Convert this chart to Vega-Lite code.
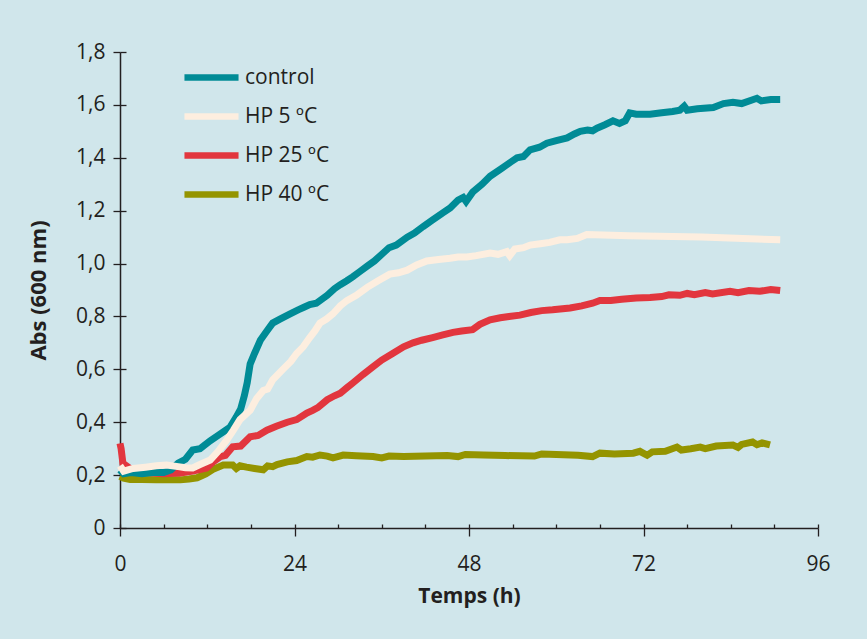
{
  "$schema": "https://vega.github.io/schema/vega-lite/v6.json",
  "width": 698,
  "height": 476,
  "autosize": {"type": "none"},
  "padding": {"left": 120, "top": 52, "right": 49, "bottom": 111},
  "background": "#d0e6eb",
  "config": {
    "view": {"stroke": null},
    "font": "Open Sans",
    "axis": {"labelFont": "Open Sans", "titleFont": "Open Sans", "domainColor": "#231f20", "tickColor": "#231f20", "labelColor": "#231f20", "titleColor": "#231f20", "grid": false}
  },
  "datasets": {
    "curves": [
      {"s": "HP 40 ºC", "h": 0, "v": 0.195}, {"s": "HP 40 ºC", "h": 0.5, "v": 0.188}, {"s": "HP 40 ºC", "h": 1.4, "v": 0.183}, {"s": "HP 40 ºC", "h": 3, "v": 0.183}, {"s": "HP 40 ºC", "h": 5, "v": 0.182}, {"s": "HP 40 ºC", "h": 8.3, "v": 0.182}, {"s": "HP 40 ºC", "h": 9.5, "v": 0.185}, {"s": "HP 40 ºC", "h": 10.6, "v": 0.19}, {"s": "HP 40 ºC", "h": 11.8, "v": 0.205}, {"s": "HP 40 ºC", "h": 12.8, "v": 0.222}, {"s": "HP 40 ºC", "h": 14.2, "v": 0.238}, {"s": "HP 40 ºC", "h": 15.5, "v": 0.238}, {"s": "HP 40 ºC", "h": 16, "v": 0.225}, {"s": "HP 40 ºC", "h": 16.5, "v": 0.235}, {"s": "HP 40 ºC", "h": 17.4, "v": 0.23}, {"s": "HP 40 ºC", "h": 18.5, "v": 0.225}, {"s": "HP 40 ºC", "h": 19.7, "v": 0.22}, {"s": "HP 40 ºC", "h": 20.3, "v": 0.235}, {"s": "HP 40 ºC", "h": 21, "v": 0.232}, {"s": "HP 40 ºC", "h": 21.6, "v": 0.24}, {"s": "HP 40 ºC", "h": 23, "v": 0.25}, {"s": "HP 40 ºC", "h": 24.3, "v": 0.255}, {"s": "HP 40 ºC", "h": 25.7, "v": 0.27}, {"s": "HP 40 ºC", "h": 26.5, "v": 0.268}, {"s": "HP 40 ºC", "h": 27.5, "v": 0.276}, {"s": "HP 40 ºC", "h": 28.5, "v": 0.272}, {"s": "HP 40 ºC", "h": 29.3, "v": 0.265}, {"s": "HP 40 ºC", "h": 30.7, "v": 0.276}, {"s": "HP 40 ºC", "h": 32.5, "v": 0.273}, {"s": "HP 40 ºC", "h": 34.8, "v": 0.27}, {"s": "HP 40 ºC", "h": 36, "v": 0.265}, {"s": "HP 40 ºC", "h": 37, "v": 0.272}, {"s": "HP 40 ºC", "h": 39, "v": 0.27}, {"s": "HP 40 ºC", "h": 42, "v": 0.272}, {"s": "HP 40 ºC", "h": 45, "v": 0.274}, {"s": "HP 40 ºC", "h": 46.5, "v": 0.27}, {"s": "HP 40 ºC", "h": 47.5, "v": 0.278}, {"s": "HP 40 ºC", "h": 50, "v": 0.276}, {"s": "HP 40 ºC", "h": 53, "v": 0.274}, {"s": "HP 40 ºC", "h": 57, "v": 0.272}, {"s": "HP 40 ºC", "h": 58, "v": 0.28}, {"s": "HP 40 ºC", "h": 60, "v": 0.278}, {"s": "HP 40 ºC", "h": 63, "v": 0.275}, {"s": "HP 40 ºC", "h": 65, "v": 0.27}, {"s": "HP 40 ºC", "h": 66, "v": 0.283}, {"s": "HP 40 ºC", "h": 68, "v": 0.28}, {"s": "HP 40 ºC", "h": 70.6, "v": 0.283}, {"s": "HP 40 ºC", "h": 71.5, "v": 0.29}, {"s": "HP 40 ºC", "h": 72.5, "v": 0.275}, {"s": "HP 40 ºC", "h": 73.2, "v": 0.288}, {"s": "HP 40 ºC", "h": 75, "v": 0.29}, {"s": "HP 40 ºC", "h": 76.6, "v": 0.306}, {"s": "HP 40 ºC", "h": 77.2, "v": 0.295}, {"s": "HP 40 ºC", "h": 78.5, "v": 0.3}, {"s": "HP 40 ºC", "h": 79.8, "v": 0.306}, {"s": "HP 40 ºC", "h": 80.5, "v": 0.3}, {"s": "HP 40 ºC", "h": 82, "v": 0.31}, {"s": "HP 40 ºC", "h": 84.3, "v": 0.314}, {"s": "HP 40 ºC", "h": 85, "v": 0.305}, {"s": "HP 40 ºC", "h": 85.5, "v": 0.316}, {"s": "HP 40 ºC", "h": 87, "v": 0.325}, {"s": "HP 40 ºC", "h": 87.6, "v": 0.315}, {"s": "HP 40 ºC", "h": 88.3, "v": 0.322}, {"s": "HP 40 ºC", "h": 89.4, "v": 0.314},

      {"s": "HP 25 ºC", "h": 0, "v": 0.32}, {"s": "HP 25 ºC", "h": 0.15, "v": 0.3}, {"s": "HP 25 ºC", "h": 0.4, "v": 0.245}, {"s": "HP 25 ºC", "h": 1.4, "v": 0.225}, {"s": "HP 25 ºC", "h": 2.5, "v": 0.215}, {"s": "HP 25 ºC", "h": 3.7, "v": 0.21}, {"s": "HP 25 ºC", "h": 6, "v": 0.205}, {"s": "HP 25 ºC", "h": 8.3, "v": 0.208}, {"s": "HP 25 ºC", "h": 10, "v": 0.215}, {"s": "HP 25 ºC", "h": 11.9, "v": 0.227}, {"s": "HP 25 ºC", "h": 12.8, "v": 0.25}, {"s": "HP 25 ºC", "h": 13.8, "v": 0.27}, {"s": "HP 25 ºC", "h": 14.5, "v": 0.275}, {"s": "HP 25 ºC", "h": 15.5, "v": 0.307}, {"s": "HP 25 ºC", "h": 16.6, "v": 0.31}, {"s": "HP 25 ºC", "h": 17.9, "v": 0.345}, {"s": "HP 25 ºC", "h": 19, "v": 0.35}, {"s": "HP 25 ºC", "h": 20.2, "v": 0.37}, {"s": "HP 25 ºC", "h": 21.5, "v": 0.385}, {"s": "HP 25 ºC", "h": 23, "v": 0.4}, {"s": "HP 25 ºC", "h": 24.3, "v": 0.41}, {"s": "HP 25 ºC", "h": 25.7, "v": 0.435}, {"s": "HP 25 ºC", "h": 26.5, "v": 0.445}, {"s": "HP 25 ºC", "h": 27.2, "v": 0.455}, {"s": "HP 25 ºC", "h": 28.5, "v": 0.485}, {"s": "HP 25 ºC", "h": 29.5, "v": 0.5}, {"s": "HP 25 ºC", "h": 30.3, "v": 0.51}, {"s": "HP 25 ºC", "h": 31.2, "v": 0.53}, {"s": "HP 25 ºC", "h": 32, "v": 0.548}, {"s": "HP 25 ºC", "h": 33.4, "v": 0.58}, {"s": "HP 25 ºC", "h": 34.8, "v": 0.61}, {"s": "HP 25 ºC", "h": 36, "v": 0.635}, {"s": "HP 25 ºC", "h": 37.5, "v": 0.66}, {"s": "HP 25 ºC", "h": 39, "v": 0.685}, {"s": "HP 25 ºC", "h": 40.3, "v": 0.7}, {"s": "HP 25 ºC", "h": 41.5, "v": 0.71}, {"s": "HP 25 ºC", "h": 43, "v": 0.72}, {"s": "HP 25 ºC", "h": 44.4, "v": 0.73}, {"s": "HP 25 ºC", "h": 45.8, "v": 0.74}, {"s": "HP 25 ºC", "h": 47, "v": 0.745}, {"s": "HP 25 ºC", "h": 48.5, "v": 0.75}, {"s": "HP 25 ºC", "h": 49.5, "v": 0.77}, {"s": "HP 25 ºC", "h": 50.9, "v": 0.787}, {"s": "HP 25 ºC", "h": 52.3, "v": 0.795}, {"s": "HP 25 ºC", "h": 53.5, "v": 0.8}, {"s": "HP 25 ºC", "h": 55, "v": 0.805}, {"s": "HP 25 ºC", "h": 56.5, "v": 0.815}, {"s": "HP 25 ºC", "h": 58, "v": 0.822}, {"s": "HP 25 ºC", "h": 59.5, "v": 0.825}, {"s": "HP 25 ºC", "h": 61.9, "v": 0.832}, {"s": "HP 25 ºC", "h": 63.5, "v": 0.84}, {"s": "HP 25 ºC", "h": 65, "v": 0.85}, {"s": "HP 25 ºC", "h": 66, "v": 0.86}, {"s": "HP 25 ºC", "h": 67.5, "v": 0.86}, {"s": "HP 25 ºC", "h": 69, "v": 0.865}, {"s": "HP 25 ºC", "h": 71, "v": 0.87}, {"s": "HP 25 ºC", "h": 72.9, "v": 0.872}, {"s": "HP 25 ºC", "h": 74.5, "v": 0.875}, {"s": "HP 25 ºC", "h": 75.5, "v": 0.882}, {"s": "HP 25 ºC", "h": 77, "v": 0.88}, {"s": "HP 25 ºC", "h": 78, "v": 0.887}, {"s": "HP 25 ºC", "h": 79, "v": 0.882}, {"s": "HP 25 ºC", "h": 80.5, "v": 0.89}, {"s": "HP 25 ºC", "h": 81.5, "v": 0.885}, {"s": "HP 25 ºC", "h": 83.9, "v": 0.895}, {"s": "HP 25 ºC", "h": 85, "v": 0.89}, {"s": "HP 25 ºC", "h": 86.5, "v": 0.898}, {"s": "HP 25 ºC", "h": 88, "v": 0.895}, {"s": "HP 25 ºC", "h": 89.5, "v": 0.902}, {"s": "HP 25 ºC", "h": 90.8, "v": 0.898},

      {"s": "control", "h": 0, "v": 0.22}, {"s": "control", "h": 0.5, "v": 0.205}, {"s": "control", "h": 1.5, "v": 0.21}, {"s": "control", "h": 3, "v": 0.205}, {"s": "control", "h": 4.5, "v": 0.21}, {"s": "control", "h": 6, "v": 0.21}, {"s": "control", "h": 7, "v": 0.22}, {"s": "control", "h": 8, "v": 0.245}, {"s": "control", "h": 9, "v": 0.26}, {"s": "control", "h": 10, "v": 0.295}, {"s": "control", "h": 11, "v": 0.3}, {"s": "control", "h": 12.4, "v": 0.33}, {"s": "control", "h": 13.5, "v": 0.35}, {"s": "control", "h": 15.1, "v": 0.38}, {"s": "control", "h": 16, "v": 0.42}, {"s": "control", "h": 16.6, "v": 0.45}, {"s": "control", "h": 17.1, "v": 0.5}, {"s": "control", "h": 17.5, "v": 0.55}, {"s": "control", "h": 17.9, "v": 0.62}, {"s": "control", "h": 18.5, "v": 0.66}, {"s": "control", "h": 19.3, "v": 0.71}, {"s": "control", "h": 20.2, "v": 0.745}, {"s": "control", "h": 21, "v": 0.775}, {"s": "control", "h": 22, "v": 0.79}, {"s": "control", "h": 23.4, "v": 0.81}, {"s": "control", "h": 24.5, "v": 0.825}, {"s": "control", "h": 25.3, "v": 0.835}, {"s": "control", "h": 26.1, "v": 0.845}, {"s": "control", "h": 27, "v": 0.85}, {"s": "control", "h": 28.5, "v": 0.88}, {"s": "control", "h": 29.5, "v": 0.905}, {"s": "control", "h": 30.3, "v": 0.92}, {"s": "control", "h": 31.2, "v": 0.935}, {"s": "control", "h": 32, "v": 0.95}, {"s": "control", "h": 33, "v": 0.97}, {"s": "control", "h": 34, "v": 0.99}, {"s": "control", "h": 35, "v": 1.01}, {"s": "control", "h": 36.2, "v": 1.04}, {"s": "control", "h": 37, "v": 1.06}, {"s": "control", "h": 38, "v": 1.07}, {"s": "control", "h": 39.5, "v": 1.1}, {"s": "control", "h": 40.5, "v": 1.115}, {"s": "control", "h": 41.7, "v": 1.14}, {"s": "control", "h": 43, "v": 1.165}, {"s": "control", "h": 44.3, "v": 1.19}, {"s": "control", "h": 45.4, "v": 1.21}, {"s": "control", "h": 46.5, "v": 1.24}, {"s": "control", "h": 47.2, "v": 1.25}, {"s": "control", "h": 47.6, "v": 1.235}, {"s": "control", "h": 48.5, "v": 1.27}, {"s": "control", "h": 49.8, "v": 1.3}, {"s": "control", "h": 50.9, "v": 1.33}, {"s": "control", "h": 52.5, "v": 1.36}, {"s": "control", "h": 53.8, "v": 1.385}, {"s": "control", "h": 54.6, "v": 1.4}, {"s": "control", "h": 55.5, "v": 1.405}, {"s": "control", "h": 56.4, "v": 1.43}, {"s": "control", "h": 57.7, "v": 1.44}, {"s": "control", "h": 58.7, "v": 1.455}, {"s": "control", "h": 60, "v": 1.465}, {"s": "control", "h": 61.5, "v": 1.475}, {"s": "control", "h": 62.5, "v": 1.49}, {"s": "control", "h": 63.3, "v": 1.5}, {"s": "control", "h": 64.3, "v": 1.505}, {"s": "control", "h": 65, "v": 1.502}, {"s": "control", "h": 65.6, "v": 1.512}, {"s": "control", "h": 66.7, "v": 1.525}, {"s": "control", "h": 67.8, "v": 1.54}, {"s": "control", "h": 68.7, "v": 1.53}, {"s": "control", "h": 69.5, "v": 1.54}, {"s": "control", "h": 70.1, "v": 1.57}, {"s": "control", "h": 71, "v": 1.565}, {"s": "control", "h": 72.9, "v": 1.565}, {"s": "control", "h": 74.5, "v": 1.57}, {"s": "control", "h": 76, "v": 1.575}, {"s": "control", "h": 77, "v": 1.58}, {"s": "control", "h": 77.6, "v": 1.595}, {"s": "control", "h": 78, "v": 1.58}, {"s": "control", "h": 79.4, "v": 1.585}, {"s": "control", "h": 81.6, "v": 1.59}, {"s": "control", "h": 83, "v": 1.605}, {"s": "control", "h": 84.3, "v": 1.61}, {"s": "control", "h": 85.5, "v": 1.605}, {"s": "control", "h": 87.6, "v": 1.625}, {"s": "control", "h": 88.2, "v": 1.615}, {"s": "control", "h": 89.5, "v": 1.62}, {"s": "control", "h": 90.8, "v": 1.62},

      {"s": "HP 5 ºC", "h": 0, "v": 0.235}, {"s": "HP 5 ºC", "h": 0.5, "v": 0.215}, {"s": "HP 5 ºC", "h": 1.8, "v": 0.225}, {"s": "HP 5 ºC", "h": 3.5, "v": 0.23}, {"s": "HP 5 ºC", "h": 5, "v": 0.235}, {"s": "HP 5 ºC", "h": 6.4, "v": 0.238}, {"s": "HP 5 ºC", "h": 8, "v": 0.232}, {"s": "HP 5 ºC", "h": 9, "v": 0.228}, {"s": "HP 5 ºC", "h": 10, "v": 0.227}, {"s": "HP 5 ºC", "h": 11, "v": 0.24}, {"s": "HP 5 ºC", "h": 12.4, "v": 0.257}, {"s": "HP 5 ºC", "h": 13.5, "v": 0.29}, {"s": "HP 5 ºC", "h": 14.7, "v": 0.333}, {"s": "HP 5 ºC", "h": 15.6, "v": 0.37}, {"s": "HP 5 ºC", "h": 16.5, "v": 0.41}, {"s": "HP 5 ºC", "h": 17.9, "v": 0.445}, {"s": "HP 5 ºC", "h": 18.8, "v": 0.49}, {"s": "HP 5 ºC", "h": 19.7, "v": 0.52}, {"s": "HP 5 ºC", "h": 20.3, "v": 0.525}, {"s": "HP 5 ºC", "h": 21, "v": 0.56}, {"s": "HP 5 ºC", "h": 22.4, "v": 0.6}, {"s": "HP 5 ºC", "h": 23.5, "v": 0.63}, {"s": "HP 5 ºC", "h": 24.3, "v": 0.66}, {"s": "HP 5 ºC", "h": 25.2, "v": 0.685}, {"s": "HP 5 ºC", "h": 26.1, "v": 0.72}, {"s": "HP 5 ºC", "h": 26.8, "v": 0.745}, {"s": "HP 5 ºC", "h": 27.5, "v": 0.775}, {"s": "HP 5 ºC", "h": 28.4, "v": 0.79}, {"s": "HP 5 ºC", "h": 29.3, "v": 0.81}, {"s": "HP 5 ºC", "h": 30.3, "v": 0.84}, {"s": "HP 5 ºC", "h": 31.2, "v": 0.86}, {"s": "HP 5 ºC", "h": 32.5, "v": 0.88}, {"s": "HP 5 ºC", "h": 34, "v": 0.91}, {"s": "HP 5 ºC", "h": 35.5, "v": 0.935}, {"s": "HP 5 ºC", "h": 37.1, "v": 0.96}, {"s": "HP 5 ºC", "h": 38.3, "v": 0.965}, {"s": "HP 5 ºC", "h": 39.5, "v": 0.975}, {"s": "HP 5 ºC", "h": 40.8, "v": 0.995}, {"s": "HP 5 ºC", "h": 42.2, "v": 1.01}, {"s": "HP 5 ºC", "h": 43.8, "v": 1.015}, {"s": "HP 5 ºC", "h": 45.4, "v": 1.02}, {"s": "HP 5 ºC", "h": 46.5, "v": 1.025}, {"s": "HP 5 ºC", "h": 47.7, "v": 1.025}, {"s": "HP 5 ºC", "h": 49, "v": 1.03}, {"s": "HP 5 ºC", "h": 50.9, "v": 1.04}, {"s": "HP 5 ºC", "h": 52, "v": 1.035}, {"s": "HP 5 ºC", "h": 53.2, "v": 1.045}, {"s": "HP 5 ºC", "h": 53.6, "v": 1.03}, {"s": "HP 5 ºC", "h": 54.3, "v": 1.055}, {"s": "HP 5 ºC", "h": 55.5, "v": 1.06}, {"s": "HP 5 ºC", "h": 56.4, "v": 1.07}, {"s": "HP 5 ºC", "h": 57.8, "v": 1.075}, {"s": "HP 5 ºC", "h": 59.1, "v": 1.08}, {"s": "HP 5 ºC", "h": 60.5, "v": 1.09}, {"s": "HP 5 ºC", "h": 61.5, "v": 1.09}, {"s": "HP 5 ºC", "h": 62.9, "v": 1.095}, {"s": "HP 5 ºC", "h": 64.2, "v": 1.11}, {"s": "HP 5 ºC", "h": 70, "v": 1.105}, {"s": "HP 5 ºC", "h": 80, "v": 1.1}, {"s": "HP 5 ºC", "h": 90.8, "v": 1.09}
    ]
  },
  "data": {"name": "curves"},
  "resolve": {"axis": {"x": "independent", "y": "independent"}},
  "layer": [
    {
      "mark": {"type": "point", "opacity": 0},
      "encoding": {
        "x": {"field": "h", "type": "quantitative", "scale": {"domain": [0, 96], "nice": false},
          "axis": {"orient": "bottom", "values": [0, 6, 12, 18, 24, 30, 36, 42, 48, 54, 60, 66, 72, 78, 84, 90, 96], "tickSize": -4, "tickWidth": 1.3, "labels": false, "domain": false, "title": null}},
        "y": {"field": "v", "type": "quantitative", "scale": {"domain": [0, 1.8], "nice": false},
          "axis": {"orient": "left", "values": [0, 0.2, 0.4, 0.6, 0.8, 1, 1.2, 1.4, 1.6, 1.8], "tickSize": -6, "tickWidth": 1.3, "labels": false, "domain": false, "title": null}}
      }
    },
    {
      "mark": {"type": "line", "strokeWidth": 7, "strokeJoin": "miter", "strokeCap": "butt"},
      "encoding": {
        "x": {"field": "h", "type": "quantitative", "scale": {"domain": [0, 96], "nice": false},
          "axis": {"orient": "bottom", "values": [0, 24, 48, 72, 96], "tickSize": 8, "tickWidth": 1.3, "domainWidth": 1.5, "labelFontSize": 21, "labelPadding": 17, "labelFlush": false, "title": "Temps (h)", "titleFontSize": 21, "titleFontWeight": "bold", "titlePadding": 11}},
        "y": {"field": "v", "type": "quantitative", "scale": {"domain": [0, 1.8], "nice": false},
          "axis": {"orient": "left", "values": [0, 0.2, 0.4, 0.6, 0.8, 1, 1.2, 1.4, 1.6, 1.8], "tickSize": 7, "tickWidth": 1.3, "domainWidth": 1.5, "labelFontSize": 21, "labelPadding": 8, "labelFlush": false, "labelExpr": "datum.value == 0 ? '0' : replace(format(datum.value, '.1f'), '.', ',')", "title": "Abs (600 nm)", "titleFontSize": 22, "titleFontWeight": "bold", "titlePadding": 25}},
        "color": {"field": "s", "type": "nominal",
          "scale": {"domain": ["control", "HP 5 ºC", "HP 25 ºC", "HP 40 ºC"], "range": ["#008b96", "#fdeedf", "#e2363e", "#949400"]},
          "legend": {"title": null, "orient": "none", "legendX": 81, "legendY": 15, "padding": 0, "symbolType": "M-5,0H5", "symbolSize": 117, "symbolStrokeWidth": 6.5, "labelFontSize": 21, "labelColor": "#231f20", "labelOffset": 23, "rowPadding": 12}}
      }
    }
  ]
}
